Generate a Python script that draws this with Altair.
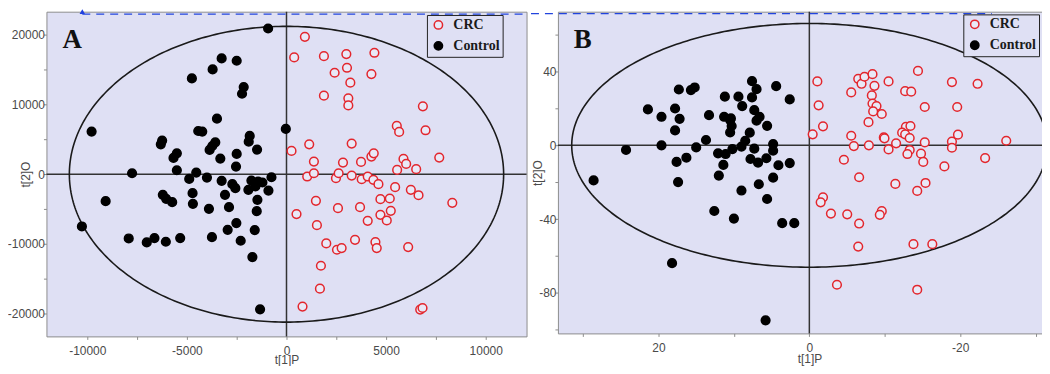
import altair as alt
import numpy as np
import pandas as pd

# ---------------- Panel A (t[1]P vs t[2]O) ----------------
a_control_x = [-923, -3255, -2500, -3708, -4749, -2148, -2232, -3490, -9783, -34,
               -4430, -4229, -1846, -1896, -1477, -6242, -6309, -3574, -3725, -3859,
               -3322, -2500, -2534, -5504, -5672, -5504, -7752, -4530, -4883, -3993,
               -3255, -2718, -2567, -1762, -1426, -1208, -1560, -1913, -755, -906,
               -4715, -3087, -6208, -6040, -5738, -9078, -4698, -1460, -3893, -2886,
               -1494, -10270, -2517, -2953, -1594, -7920, -7014, -6628, -6057, -5336,
               -3742, -2299, -1712, -1326]
a_control_y = [20890, 16600, 16270, 15030, 13740, 12500, 11540, 7970, 6110, 6490,
               6200, 6110, 5490, 4670, 3530, 4820, 4290, 4580, 4050, 3480,
               2240, 2910, 1100, 3000, 2340, 570, 140, 240, -670, -480,
               -950, -1430, -2000, -910, -1050, -1190, -1760, -2240, -430, -2340,
               -2720, -2960, -2960, -3530, -4010, -3860, -4250, -3670, -4960, -4720,
               -5290, -7490, -7010, -7970, -8010, -9210, -9780, -9160, -9680, -9160,
               -9020, -9540, -11880, -19370]
a_crc_x = [923, 386, 1879, 3004, 4413, 2416, 3037, 4262, 3205, 1879,
           3104, 3104, 6846, 5537, 5655, 6980, 252, 1141, 3272, 1376,
           2836, 3742, 4262, 4380, 7668, 5873, 6007, 6510, 5554, 1040,
           1376, 2483, 2618, 3272, 3775, 4077, 4363, 4615, 5453, 6242,
           6628, 4715, 5185, 8323, 1477, 2584, 3692, 5235, 503, 4715,
           5034, 4077, 1527, 3440, 4464, 4530, 1997, 2534, 2768, 6108,
           1728, 1678, 805, 6712, 6829]
a_crc_y = [19700, 16740, 16930, 17220, 17410, 14550, 15260, 14360, 13120, 11260,
           10880, 9870, 9730, 6920, 6060, 6300, 3340, 4290, 4390, 1810,
           1670, 1760, 2530, 3000, 2390, 2190, 1480, 720, 620, -330,
           140, -570, 140, -190, -720, -330, -810, -1430, -1860, -2240,
           -3010, -3580, -3480, -4100, -3820, -4870, -4720, -5250, -5720, -5820,
           -6630, -6680, -7300, -9400, -9730, -10590, -9920, -10830, -10590, -10450,
           -13120, -16410, -18980, -19410, -19180]
a_x_ticks = [-10000, -7500, -5000, -2500, 0, 2500, 5000, 7500, 10000]
a_y_ticks = [-20000, -15000, -10000, -5000, 0, 5000, 10000, 15000, 20000]
a_ellipse_radii = [10900, 21200]

# ---------------- Panel B ----------------
b_control_x = [28.6, 24.3, 21.4, 19.6, 19.6, 17.8, 17.2, 17.8, 17.3, 15.7,
               15.2, 17.6, 16.3, 17.4, 15.0, 13.7, 13.3, 12.6, 12.1, 12.0,
               11.2, 11.3, 11.4, 11.1, 10.5, 10.3, 10.5, 10.4, 10.2, 10.0,
               9.4, 8.9, 9.0, 8.5, 7.9, 9.0, 7.6, 7.0, 7.6, 7.3,
               6.6, 7.0, 7.3, 7.8, 6.8, 6.7, 5.7, 5.6, 5.6, 4.4,
               4.8, 4.8, 4.8, 4.1, 3.6, 2.6, 2.6, 2.0, 18.2, 5.8]
b_control_y = [-19.0, -2.5, 19.5, 15.5, 0.0, 20.0, 14.4, 8.1, 30.3, 30.0,
               31.4, -9.0, -6.7, -19.9, -1.1, 2.9, 16.4, -35.6, -4.3, -16.4,
               26.4, 15.5, -10.6, -4.7, 13.7, 10.5, 7.0, 14.6, -2.0, -39.7,
               26.4, 21.3, -0.7, 2.5, 6.9, -24.5, 34.8, 30.5, 26.0, 19.1,
               15.5, 13.4, -1.8, -7.4, -9.4, -21.1, -7.0, 10.6, -29.1, 32.1,
               0.7, -2.9, -17.5, -10.8, -42.2, 24.9, -9.6, -42.2, -63.9, -94.9]
b_crc_x = [-0.44, -1.06, -1.23, -1.81, -1.81, -1.5, -2.86, -4.58, -3.66, -5.02,
           -5.55, -5.55, -5.9, -6.48, -6.92, -7.31, -8.37, -8.63, -8.28, -8.37,
           -8.9, -8.46, -9.6, -7.84, -7.89, -6.6, -6.6, -6.48, -9.87, -9.96,
           -10.5, -10.5, -11.5, -11.4, -9.6, -9.34, -12.7, -13.5, -12.8, -13.4,
           -12.3, -12.7, -13.3, -13.3, -13.0, -14.4, -15.3, -15.3, -14.8, -15.1,
           -15.4, -14.3, -13.8, -16.3, -14.3, -17.9, -18.9, -18.9, -18.9, -19.6,
           -19.7, -22.3, -23.3, -26.1]
b_crc_y = [6.0, 34.7, 21.7, 10.3, -28.2, -30.9, -37.0, -7.8, -75.6, -37.4,
           28.7, 5.2, -0.4, 36.1, 33.4, 37.2, 38.6, 32.3, 27.1, 22.7,
           21.3, 18.4, 17.0, 12.6, 0.0, -17.3, -42.4, -54.9, 4.3, 3.8,
           34.7, -2.2, 1.1, -20.9, -35.7, -37.7, 29.4, 29.1, 10.1, 10.5,
           6.9, 6.0, 4.0, -2.5, -4.7, 40.4, 20.8, 1.6, -4.5, -9.0,
           -20.4, -24.7, -53.6, -53.6, -78.3, -11.4, 34.3, 2.0, -1.3, 20.8,
           5.8, 33.4, -6.9, 2.5]
b_x_ticks = [30, 20, 10, 0, -10, -20, -30]
b_y_ticks = [-100, -80, -60, -40, -20, 0, 20, 40, 60]
b_ellipse_radii = [31.5, 66.1]

groups = ["CRC", "Control"]

BG = "#dfe0f4"
RED = "#e3262d"
AXIS_TXT = "#4a4a4a"
SANS = "Liberation Sans"
SERIF = "Liberation Serif"


def make_panel(ctrl_x, ctrl_y, crc_x, crc_y, ticks_x, ticks_y, radii, cfg):
    pts = pd.DataFrame({
        "x": list(crc_x) + list(ctrl_x),
        "y": list(crc_y) + list(ctrl_y),
        "group": ["CRC"] * len(crc_x) + ["Control"] * len(ctrl_x),
    })
    t = np.linspace(0, 2 * np.pi, 361)
    ell = pd.DataFrame({"x": radii[0] * np.cos(t), "y": radii[1] * np.sin(t), "i": np.arange(len(t))})
    zero_v = pd.DataFrame({"x": [0]})
    zero_h = pd.DataFrame({"y": [0]})
    dash = pd.DataFrame({"x": [cfg["dash"][0]], "x2": [cfg["dash"][1]], "y": [cfg["dash"][2]]})
    tri = pd.DataFrame({"x": [cfg["tri"][0]], "y": [cfg["tri"][1]]}) if cfg.get("tri") else None
    letter = pd.DataFrame({"t": [cfg["letter"]]})

    xaxis = alt.Axis(values=ticks_x,
                     labelExpr=f"datum.value % {cfg['xstep']} === 0 ? '' + datum.value : ''",
                     title="t[1]P", grid=False, domain=False, tickSize=3, tickColor="#8c8c8c",
                     labelPadding=cfg["xlabpad"], labelFont=SANS, labelFontSize=12, labelColor=AXIS_TXT,
                     labelOverlap=False, labelFlush=False,
                     titleFont=SANS, titleFontSize=12, titleFontWeight="normal", titleColor=AXIS_TXT,
                     titleX=cfg["xtitle"][0], titleY=cfg["xtitle"][1])
    yaxis = alt.Axis(values=ticks_y,
                     labelExpr=f"datum.value % {cfg['ystep']} === 0 ? '' + datum.value : ''",
                     title="t[2]O", grid=False, domain=False, tickSize=3, tickColor="#8c8c8c",
                     labelPadding=-1, labelFont=SANS, labelFontSize=12, labelColor=AXIS_TXT,
                     labelOverlap=False, labelFlush=False,
                     titleFont=SANS, titleFontSize=12, titleFontWeight="normal", titleColor=AXIS_TXT,
                     titleX=cfg["ytitle"], titleY=cfg["h"] / 2)
    xs = alt.Scale(domain=cfg["xdom"], reverse=cfg["rev"], nice=False, zero=False)
    ys = alt.Scale(domain=cfg["ydom"], nice=False, zero=False)

    def X():
        return alt.X("x:Q", scale=xs, axis=xaxis)

    def Y():
        return alt.Y("y:Q", scale=ys, axis=yaxis)

    legend = alt.Legend(orient="none", legendX=cfg["leg"][0], legendY=cfg["leg"][1], title=None,
                        strokeColor="#222222", fillColor=BG, padding=3, symbolOffset=1.5,
                        labelOffset=8, rowPadding=5, symbolSize=70, symbolStrokeWidth=1.5,
                        symbolType="circle",
                        labelFont=SERIF, labelFontWeight="bold", labelFontSize=14, labelColor="#1a1a1a",
                        labelExpr="datum.label + ' '")

    l_zero_v = alt.Chart(zero_v).mark_rule(color="#333333", strokeWidth=1.5).encode(x=X())
    l_zero_h = alt.Chart(zero_h).mark_rule(color="#333333", strokeWidth=1.5).encode(y=Y())
    l_ell = alt.Chart(ell).mark_line(color="#1a1a1a", strokeWidth=1.6).encode(x=X(), y=Y(), order="i:Q")
    l_dash = alt.Chart(dash).mark_rule(color="#2244dd", strokeWidth=1.2, strokeDash=[8, 6]).encode(
        x=X(), x2="x2:Q", y=Y())
    l_letter = alt.Chart(letter).mark_text(align="left", baseline="alphabetic", font=SERIF, fontSize=27,
                                           fontWeight="bold", color="#111111").encode(
        text="t:N", x=alt.value(16), y=alt.value(36))
    l_pts = alt.Chart(pts).mark_point(shape="circle", size=76, strokeWidth=1.5, opacity=1).encode(
        x=X(), y=Y(),
        stroke=alt.Stroke("group:N", scale=alt.Scale(domain=groups, range=[RED, "#000000"]), legend=legend),
        fill=alt.Fill("group:N", scale=alt.Scale(domain=groups, range=["#e9e9f7", "#000000"]), legend=legend),
    )
    layers = [l_zero_v, l_zero_h, l_ell, l_dash]
    if tri is not None:
        layers.append(alt.Chart(tri).mark_point(shape="triangle-up", filled=True, color="#1f3fe0",
                                                size=30, opacity=1).encode(x=X(), y=Y()))
    layers += [l_letter, l_pts]
    return alt.layer(*layers).properties(width=cfg["w"], height=cfg["h"])


cfg_a = dict(xdom=[-12050, 12050], ydom=[-23250, 23300], rev=False, w=482, h=326,
             xstep=5000, ystep=10000, xlabpad=6, xtitle=[241, 18], ytitle=-14.5,
             leg=[382, 3.3], letter="A", dash=[-10250, 12050, 22950], tri=[-10250, 23300])
cfg_b = dict(xdom=[-31.5, 33.33], ydom=[-102, 72.5], rev=True, w=491, h=323,
             xstep=20, ystep=40, xlabpad=6.5, xtitle=[252.6, 20.3], ytitle=-13.7,
             leg=[407, 2.7], letter="B", dash=[36.9, -24.2, 71.5])

pa = make_panel(a_control_x, a_control_y, a_crc_x, a_crc_y, a_x_ticks, a_y_ticks, a_ellipse_radii, cfg_a)
pb = make_panel(b_control_x, b_control_y, b_crc_x, b_crc_y, b_x_ticks, b_y_ticks, b_ellipse_radii, cfg_b)

chart = alt.hconcat(pa, pb, spacing=31.5, bounds="flush").resolve_scale(
    fill="independent", stroke="independent"
).resolve_legend(
    fill="independent", stroke="independent"
).properties(
    padding={"left": -1.4, "top": 0, "right": -9.5, "bottom": -1.5}, background="white"
).configure_view(fill=BG, stroke="#8c8c8c", strokeWidth=1)

chart.save("out.html", embed_options={"renderer": "svg", "actions": False})
